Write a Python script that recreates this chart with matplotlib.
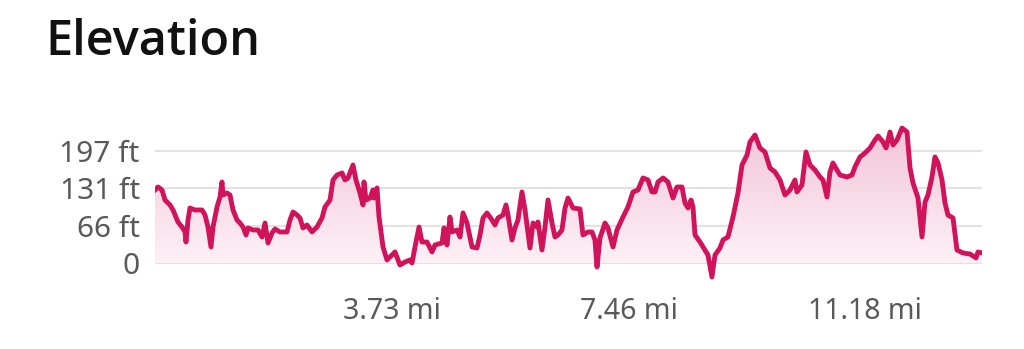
import numpy as np
import matplotlib as mpl
from matplotlib import pyplot as plt
from matplotlib.colors import LinearSegmentedColormap

#%% data
dist_mi = [0, 0.047, 0.110, 0.158, 0.236, 0.284, 0.362, 0.425, 0.473, 0.488, 0.520, 0.551,
           0.630, 0.740, 0.788, 0.835, 0.882, 0.914, 0.977, 1.024, 1.055, 1.071, 1.134, 1.181,
           1.229, 1.292, 1.339, 1.386, 1.434, 1.465, 1.544, 1.623, 1.686, 1.733, 1.780, 1.843,
           1.890, 1.969, 2.079, 2.127, 2.174, 2.237, 2.284, 2.331, 2.394, 2.473, 2.552, 2.631,
           2.678, 2.757, 2.804, 2.867, 2.946, 2.993, 3.040, 3.088, 3.119, 3.166, 3.229, 3.277,
           3.292, 3.324, 3.387, 3.434, 3.450, 3.497, 3.529, 3.592, 3.655, 3.733, 3.781, 3.859,
           3.938, 4.017, 4.049, 4.096, 4.159, 4.206, 4.285, 4.364, 4.411, 4.521, 4.553, 4.600,
           4.647, 4.679, 4.757, 4.805, 4.852, 4.915, 4.994, 5.073, 5.120, 5.167, 5.230, 5.309,
           5.356, 5.403, 5.482, 5.529, 5.561, 5.624, 5.671, 5.718, 5.781, 5.829, 5.907, 5.955,
           6.018, 6.033, 6.096, 6.144, 6.191, 6.254, 6.301, 6.348, 6.411, 6.459, 6.506, 6.585,
           6.695, 6.742, 6.821, 6.884, 6.931, 6.963, 7.010, 7.089, 7.136, 7.215, 7.278, 7.372,
           7.451, 7.530, 7.609, 7.687, 7.766, 7.829, 7.877, 7.924, 8.003, 8.081, 8.160, 8.223,
           8.302, 8.349, 8.397, 8.444, 8.475, 8.507, 8.586, 8.664, 8.711, 8.774, 8.822, 8.900,
           8.948, 9.026, 9.105, 9.184, 9.247, 9.326, 9.373, 9.452, 9.530, 9.609, 9.688, 9.767,
           9.846, 9.924, 10.003, 10.082, 10.113, 10.192, 10.255, 10.318, 10.397, 10.476, 10.523,
           10.586, 10.633, 10.680, 10.743, 10.791, 10.901, 10.980, 11.027, 11.106, 11.185,
           11.264, 11.342, 11.390, 11.468, 11.516, 11.579, 11.626, 11.689, 11.768, 11.847,
           11.894, 11.941, 12.020, 12.083, 12.130, 12.177, 12.240, 12.287, 12.335, 12.398,
           12.445, 12.492, 12.571, 12.634, 12.728, 12.838, 12.934, 12.965, 13.028]
elev_ft = [128.5, 133.7, 128.5, 110.9, 102.2, 93.4, 72.4, 63.6, 54.9, 37.3, 75.9, 96.9,
           93.4, 93.4, 84.6, 63.6, 28.6, 63.6, 98.7, 116.2, 142.5, 119.7, 123.2, 119.7,
           93.4, 75.9, 70.6, 63.6, 49.6, 61.9, 58.4, 58.4, 46.1, 70.6, 35.6, 53.1,
           60.1, 54.9, 54.9, 75.9, 89.9, 84.6, 79.4, 61.9, 67.1, 54.9, 63.6, 79.4,
           98.7, 110.9, 146.0, 154.7, 158.3, 146.0, 149.5, 163.5, 172.3, 146.0, 123.2, 102.2,
           142.5, 110.9, 114.4, 128.5, 114.4, 132.0, 81.1, 28.6, 5.8, 14.5, 19.8, -3.0,
           2.3, 5.8, 0.5, 28.6, 63.6, 37.3, 37.3, 19.8, 32.1, 35.6, 61.9, 32.1,
           81.1, 54.9, 58.4, 46.1, 88.2, 70.6, 28.6, 26.8, 49.6, 79.4, 88.2, 75.9,
           67.1, 79.4, 84.6, 102.2, 84.6, 40.8, 61.9, 75.9, 125.0, 93.4, 26.8, 70.6,
           63.6, 72.4, 23.3, 63.6, 110.9, 70.6, 46.1, 49.6, 58.4, 96.9, 114.4, 96.9,
           95.2, 49.6, 54.9, 54.9, 40.8, -6.5, 44.3, 70.6, 61.9, 28.6, 58.4, 81.1,
           98.7, 125.0, 128.5, 149.5, 146.0, 125.0, 125.0, 142.5, 149.5, 142.5, 114.4, 133.7,
           133.7, 105.7, 96.9, 110.9, 98.7, 49.6, 37.3, 23.3, 14.5, -24.0, 14.5, 26.8,
           40.8, 46.1, 81.1, 123.2, 172.3, 189.8, 212.6, 224.8, 202.1, 195.1, 167.0, 160.0,
           146.0, 119.7, 128.5, 146.0, 125.0, 137.2, 195.1, 172.3, 163.5, 151.2, 146.0,
           116.2, 160.0, 175.8, 163.5, 154.7, 151.2, 154.7, 168.8, 186.3, 193.3,
           202.1, 216.1, 223.1, 212.6, 202.1, 230.1, 207.3, 216.1, 237.1, 230.1,
           167.0, 140.7, 114.4, 46.1, 107.4, 119.7, 151.2, 186.3, 175.8, 146.0,
           105.7, 84.6, 79.4, 23.3, 18.1, 16.3, 9.3, 19.8, 18.1]

ytick_vals = [0, 65.6, 131.2, 196.8]
ytick_labels = ['0', '66 ft', '131 ft', '197 ft']
xtick_vals = [3.73, 7.46, 11.18]
xtick_labels = ['3.73 mi', '7.46 mi', '11.18 mi']

#%% plot
line_col = '#d0135b'
plt.rcParams['font.family'] = ['Noto Sans', 'DejaVu Sans']

fig = plt.figure(figsize=(10.24, 3.49), dpi=100)
ax = fig.add_axes([155/1024, 1-280.4/349, 827/1024, 156.9/349])

x = np.array(dist_mi)
y = np.array(elev_ft)
ylo, yhi = -30, 245

# gradient fill under the line
poly = ax.fill_between(x, y, 0, color='none', lw=0)
cmap = LinearSegmentedColormap.from_list('pinkfade', ['#fdf1f6', '#f2c4d8'])
grad = np.linspace(0, 1, 256).reshape(-1, 1)
img = ax.imshow(grad, cmap=cmap, aspect='auto', origin='lower',
                extent=[x[0], x[-1], 0, 240], zorder=1)
img.set_clip_path(poly.get_paths()[0], transform=ax.transData)

for v in ytick_vals:
    ax.axhline(v, color='#e2e2e2', lw=1.5, zorder=0)

ax.plot(x, y, color=line_col, lw=3.5, solid_joinstyle='round', zorder=3)

ax.set_xlim(x[0], x[-1])
ax.set_ylim(ylo, yhi)
ax.set_yticks(ytick_vals, ytick_labels)
ax.set_xticks(xtick_vals, xtick_labels)
ax.tick_params(length=0, labelcolor='#595959')
ax.tick_params(axis='y', pad=11, labelsize=21.5)
ax.tick_params(axis='x', pad=12, labelsize=20.5)
for s in ax.spines.values():
    s.set_visible(False)

fig.text(45/1024, 1-55/349, 'Elevation', fontsize=35, fontweight='semibold',
         family=['Open Sans', 'DejaVu Sans'], color='#111111', va='baseline', ha='left')

fig.savefig('out.png', dpi=100, facecolor='white')
